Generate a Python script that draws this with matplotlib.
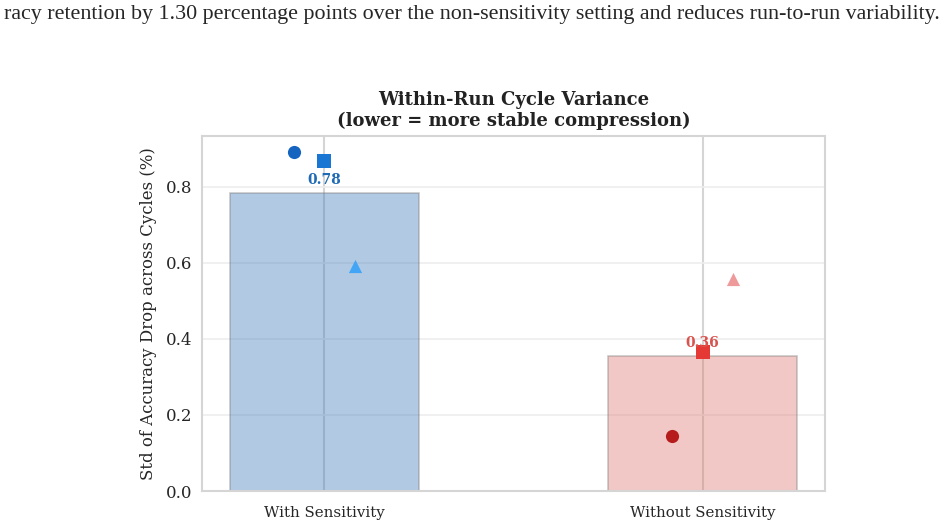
import numpy as np
import matplotlib
matplotlib.use("Agg")
import matplotlib.pyplot as plt
import seaborn as sns

# data
groups = ["With Sensitivity", "Without Sensitivity"]
runs_with = [0.892, 0.868, 0.592]      # circle, square, triangle
runs_without = [0.145, 0.366, 0.558]
bar_vals = [np.mean(runs_with), np.mean(runs_without)]
bar_labels = ["0.78", "0.36"]

markers = ["o", "s", "^"]
offsets = [-0.08, 0.0, 0.08]
blue_pts = ["#1565c0", "#1976d2", "#42a5f5"]
red_pts = ["#b71c1c", "#e53935", "#ef9a9a"]
bar_cols = ["#3d7ab8", "#dc766e"]
label_cols = ["#1f6ab5", "#d9534f"]

sns.set_style("whitegrid")
plt.rcParams["font.family"] = ["DejaVu Serif"]

fig = plt.figure(figsize=(9.43, 5.28), dpi=100)
ax = fig.add_axes([202 / 943, 1 - 491 / 528, 623 / 943, 355 / 528])

x = np.arange(len(groups))
ax.bar(x, bar_vals, width=0.5, color=bar_cols, alpha=0.4,
       edgecolor="#777777", linewidth=1.2)

for pts, cols, xc in [(runs_with, blue_pts, 0), (runs_without, red_pts, 1)]:
    for v, m, c, o in zip(pts, markers, cols, offsets):
        ax.scatter(xc + o, v, marker=m, color=c, s=90, zorder=3, linewidths=0)

for xi, v, lab, c in zip(x, bar_vals, bar_labels, label_cols):
    ax.text(xi, v + 0.015, lab, ha="center", va="bottom", fontsize=10,
            fontweight="bold", color=c)

ax.set_xlim(-0.324, 1.324)
ax.set_ylim(0, 0.934)
ax.set_xticks(x)
ax.set_xticklabels(groups, fontsize=10.8)
ax.tick_params(axis="x", pad=7)
ax.set_yticks([0.0, 0.2, 0.4, 0.6, 0.8])
ax.tick_params(axis="y", labelsize=12)
ax.set_ylabel("Std of Accuracy Drop across Cycles (%)", fontsize=11.9,
              labelpad=6)
ax.set_title("Within-Run Cycle Variance\n(lower = more stable compression)",
             fontsize=13, fontweight="bold", color="#222222", pad=7,
             linespacing=1.2)
for s in ax.spines.values():
    s.set_color("#d5d5d5")
    s.set_linewidth(1.5)
ax.grid(False)
ax.xaxis.grid(True, color="#d5d5d5", linewidth=1.5)
ax.yaxis.grid(True, color="#eeeeee", linewidth=1.2)

fig.text(0.5, 1 - 15 / 528,
         "racy retention by 1.30 percentage points over the non-sensitivity "
         "setting and reduces run-to-run variability.",
         ha="center", va="center", fontsize=15.8, family="Liberation Serif")

fig.savefig("out.png", dpi=100)
